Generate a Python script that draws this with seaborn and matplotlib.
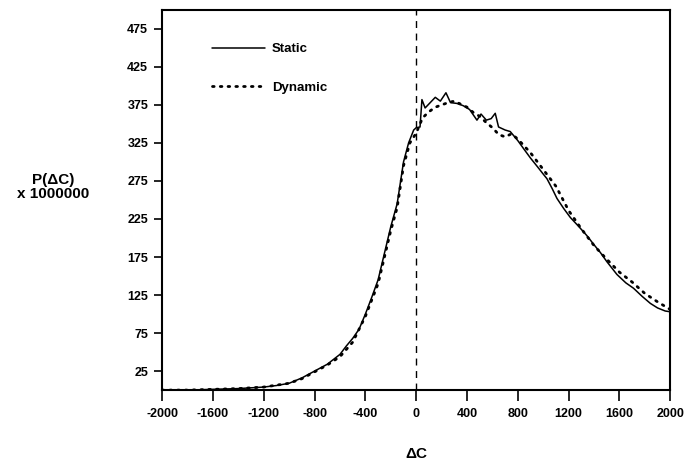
import numpy as np
import pandas as pd
import matplotlib
matplotlib.use("Agg")
import matplotlib.pyplot as plt
import seaborn as sns

# values
static_x = [-2000, -1800, -1600, -1400, -1200, -1100, -1000, -900, -800, -700,
            -600, -550, -500, -450, -400, -350, -300, -250, -200, -150,
            -100, -60, -20, 0, 30, 45, 70, 110, 150, 190,
            234, 270, 320, 370, 420, 478, 510, 552, 590, 622,
            648, 700, 740, 800, 843, 900, 953, 1000, 1029, 1070,
            1108, 1160, 1213, 1280, 1344, 1400, 1449, 1500, 1580, 1650,
            1710, 1780, 1843, 1900, 1960, 2000]
static_y = [0, 0, 1, 2, 4, 6, 9, 16, 25, 34,
            47, 58, 68, 80, 100, 122, 145, 180, 215, 245,
            300, 325, 342, 345, 346, 382, 371, 378, 385, 380,
            391, 378, 377, 374, 369, 355, 363, 355, 357, 364,
            346, 342, 340, 328, 318, 305, 294, 284, 278, 265,
            252, 239, 227, 215, 203, 191, 181, 169, 152, 141,
            134, 123, 114, 108, 104, 103]

dynamic_x = [-2000, -1800, -1600, -1400, -1200, -1000, -900, -800, -700, -600,
             -500, -400, -300, -200, -150, -100, -50, 0, 50, 100,
             150, 200, 250, 300, 350, 400, 450, 500, 550, 600,
             650, 700, 750, 800, 900, 1000, 1100, 1200, 1300, 1400,
             1500, 1600, 1700, 1800, 1900, 2000]
dynamic_y = [0, 0, 1, 2, 4, 9, 15, 24, 33, 44,
             63, 97, 140, 210, 240, 295, 325, 338, 358, 366,
             372, 375, 378, 380, 376, 372, 365, 360, 352, 345,
             336, 333, 337, 330, 312, 290, 268, 236, 212, 190,
             172, 155, 142, 127, 116, 106]

x_ticks = list(range(-2000, 2001, 400))
y_ticks = list(range(25, 476, 50))

sns.set_style("ticks")
plt.rcParams['font.family'] = ['Liberation Sans', 'DejaVu Sans']
plt.rcParams['font.weight'] = 'bold'
plt.rcParams['text.color'] = 'black'
plt.rcParams['xtick.color'] = 'black'
plt.rcParams['ytick.color'] = 'black'
plt.rcParams['axes.unicode_minus'] = False

fig = plt.figure(figsize=(6.84, 4.70), dpi=100)
ax = fig.add_axes([0.237, 0.170, 0.743, 0.809])

sns.lineplot(x=static_x, y=static_y, ax=ax, color="black", linewidth=1.1,
             label="Static")
sns.lineplot(x=dynamic_x, y=dynamic_y, ax=ax, color="black", linewidth=2.0,
             linestyle=(0, (0.6, 2.2)), dash_capstyle="round", label="Dynamic")
ax.axvline(0, color="black", linestyle=(0, (5, 4)), linewidth=1.0)

ax.set_xlim(-2000, 2000)
ax.set_ylim(0, 500)
ax.set_xticks(x_ticks)
ax.set_yticks(y_ticks)
ax.tick_params(axis="both", labelsize=9, width=1.2, direction="out",
               labelcolor="black")
ax.tick_params(axis="x", length=8, pad=5)
ax.tick_params(axis="y", length=6, pad=4)
for lab in ax.get_xticklabels() + ax.get_yticklabels():
    lab.set_fontweight("bold")
for sp in ax.spines.values():
    sp.set_visible(True)
    sp.set_linewidth(1.5)
    sp.set_color("black")

ax.set_xlabel("")
ax.set_ylabel("")
fig.text(0.078, 0.602, "P(\u0394C)\nx 1000000", ha="center", va="center",
         fontsize=11, fontweight="bold", linespacing=1.05)
fig.text(0.609, 0.035, "\u0394C", ha="center", va="center",
         fontsize=11, fontweight="bold")

leg = ax.legend(loc="upper left", bbox_to_anchor=(0.086, 0.93), frameon=False,
                borderpad=0, handlelength=4.0, handletextpad=0.5,
                labelspacing=2.0, prop={"size": 9.5, "weight": "bold"})
for t in leg.get_texts():
    t.set_color("black")

fig.savefig("out.png", dpi=100)
